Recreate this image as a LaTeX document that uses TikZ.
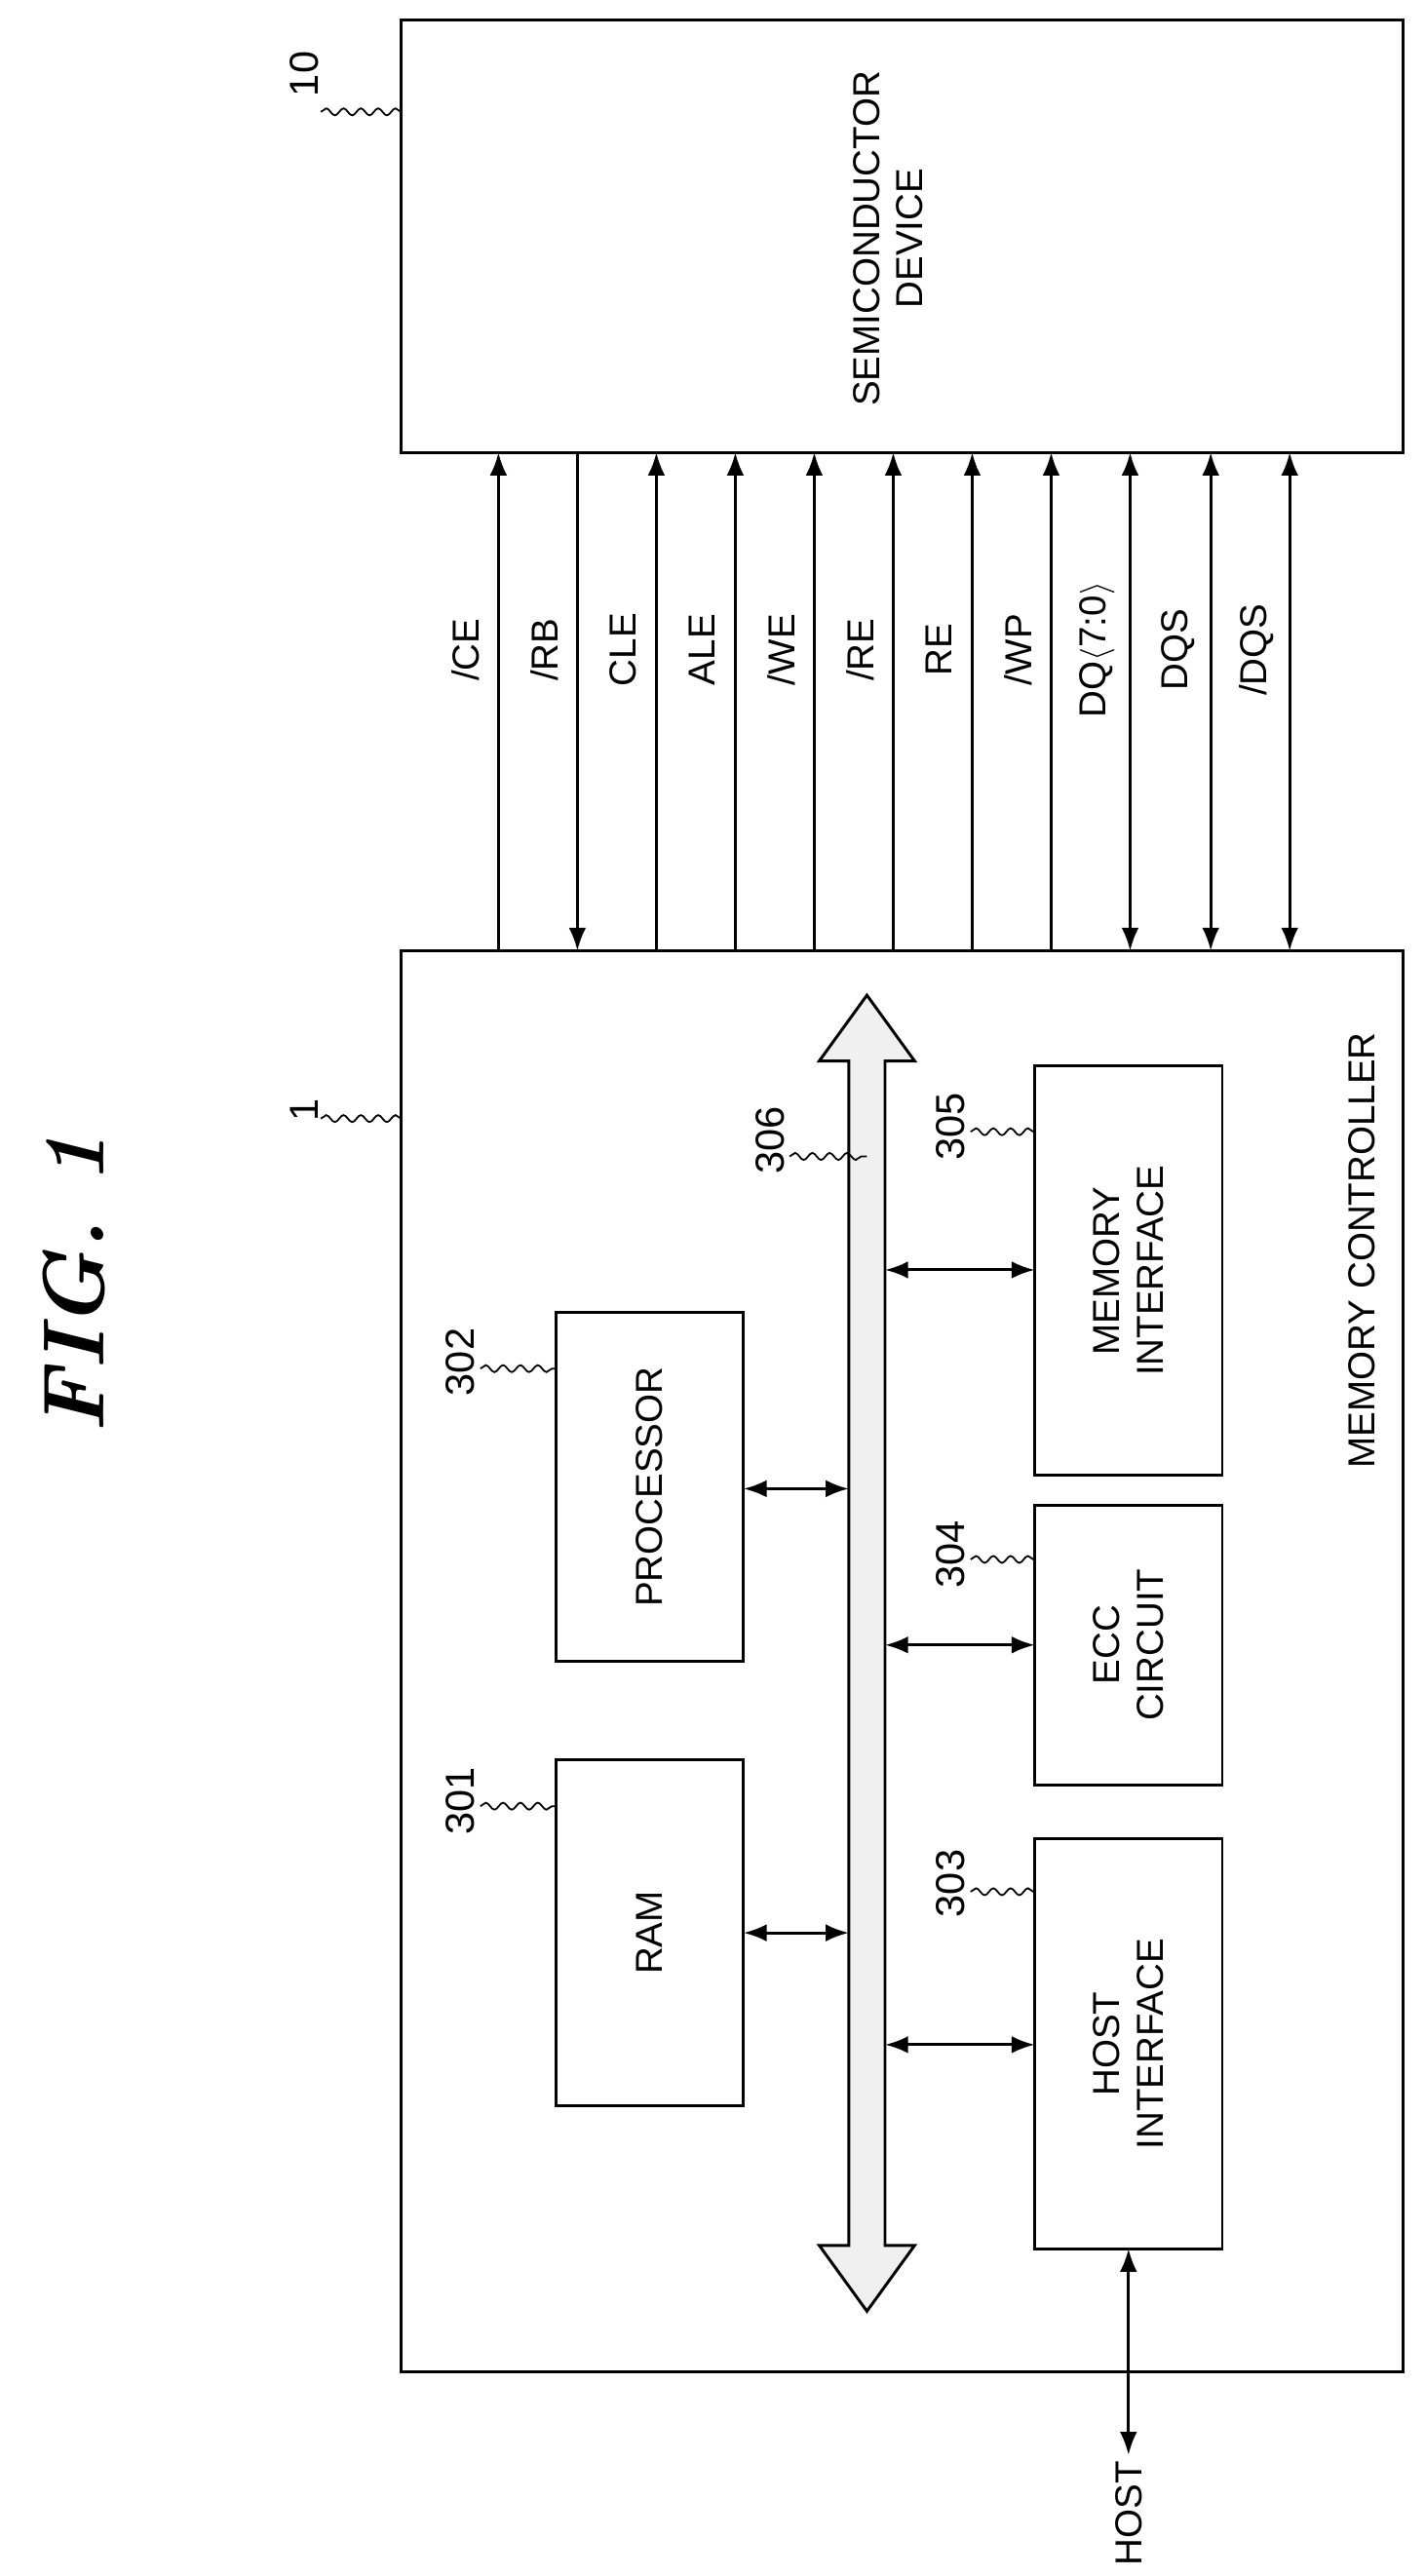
\documentclass[tikz,border=0pt]{standalone}
\usepackage{fontspec}
\setsansfont{Liberation Sans}
\usetikzlibrary{arrows.meta,decorations.pathmorphing}
\tikzset{
  lbl/.style={font=\sffamily\fontsize{13pt}{15pt}\selectfont,rotate=90,align=center},
  ref/.style={font=\sffamily\fontsize{14pt}{16pt}\selectfont,rotate=90},
  blk/.style={draw,line width=1pt},
  tip/.tip={Latex[length=8pt,width=6pt]},
  lead/.style={decorate,decoration={snake,amplitude=1.2pt,segment length=6pt},line width=0.6pt}
}
\newcommand{\slsh}{/}
\begin{document}
\begin{tikzpicture}[x=0.02cm,y=-0.02cm]
\useasboundingbox (0,0) rectangle (866,1566);

% title
\node at (45,780) [rotate=90,font=\bfseries\itshape\fontsize{30pt}{32pt}\selectfont] {FIG. 1};

% semiconductor device
\draw [blk] (244,12) rectangle (853,275);
\node (sd) at (540,145) [lbl] {SEMICONDUCTOR\\DEVICE};
\node (r10) at (185,45) [ref] {10};
\coordinate (r10e) at (244,68);
\draw [lead] (195,68) -- (r10e);

% memory controller
\draw [blk] (244,578) rectangle (853,1442);
\node (mc) at (828,760) [lbl] {MEMORY CONTROLLER};
\node (r1) at (185,675) [ref] {1};
\coordinate (r1e) at (244,680);
\draw [lead] (195,680) -- (r1e);

% signals
\foreach \x/\t/\s in {303/\slsh CE/-tip, 351/\slsh RB/tip-, 399/CLE/-tip, 447/ALE/-tip,
  495/\slsh WE/-tip, 543/\slsh RE/-tip, 591/RE/-tip, 639/\slsh WP/-tip,
  687/DQ$\langle$7:0$\rangle$/tip-tip, 736/DQS/tip-tip, 784/\slsh DQS/tip-tip} {
  \coordinate (top\x) at (\x,275);
  \coordinate (bot\x) at (\x,578);
  \draw [line width=1pt,\s] (bot\x) -- (top\x);
  \node at (\x-20,395) [lbl] {\t};
}

% blocks
\draw [blk] (338,1070) rectangle (452,1280) node [midway,lbl] (ram) {RAM};
\draw [blk] (338,798) rectangle (452,1010) node [midway,lbl] (proc) {PROCESSOR};
\draw [blk] (629,1118) rectangle (743,1367) node [midway,lbl] (host) {HOST\\INTERFACE};
\draw [blk] (629,915) rectangle (743,1085) node [midway,lbl] (ecc) {ECC\\CIRCUIT};
\draw [blk] (629,648) rectangle (743,897) node [midway,lbl] (mem) {MEMORY\\INTERFACE};

\node at (280,1095) [ref] {301};
\draw [lead] (292,1098) -- (338,1098);
\node at (280,828) [ref] {302};
\draw [lead] (292,832) -- (338,832);
\node at (578,1145) [ref] {303};
\draw [lead] (590,1150) -- (629,1150);
\node at (578,945) [ref] {304};
\draw [lead] (590,948) -- (629,948);
\node at (578,685) [ref] {305};
\draw [lead] (590,688) -- (629,688);

% bus
\filldraw [line width=1pt,fill=gray!12] (527,605) -- (556,645) -- (538,645) -- (538,1365)
  -- (556,1365) -- (527,1405) -- (498,1365) -- (516,1365) -- (516,645) -- (498,645) -- cycle;
\node at (468,693) [ref] {306};
\draw [lead] (480,703) -- (527,703);

% bus connections
\draw [line width=1pt,tip-tip] (452,1175) -- (516,1175);
\draw [line width=1pt,tip-tip] (452,905) -- (516,905);
\draw [line width=1pt,tip-tip] (538,1243) -- (629,1243);
\draw [line width=1pt,tip-tip] (538,1000) -- (629,1000);
\draw [line width=1pt,tip-tip] (538,772) -- (629,772);

% host
\node (hostext) at (686,1528) [lbl,inner sep=2pt] {HOST};
\draw [line width=1pt,tip-tip] (686,1367) -- (hostext.east);
\end{tikzpicture}
\end{document}
